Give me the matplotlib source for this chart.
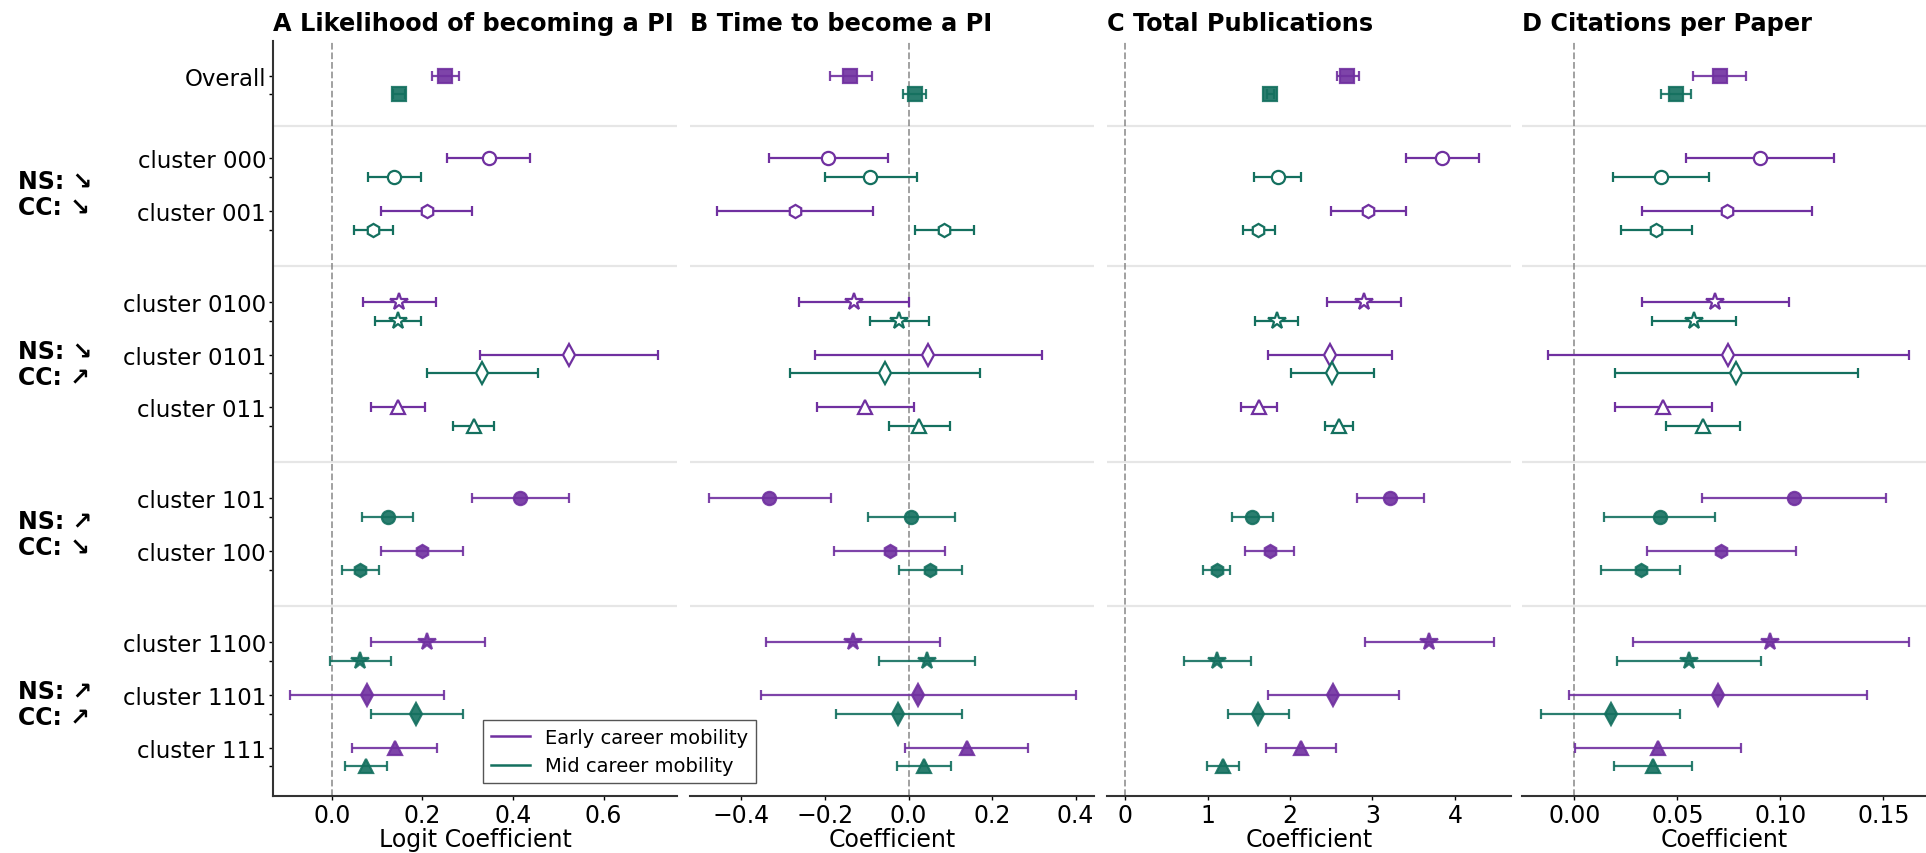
import numpy as np
import matplotlib
matplotlib.use("Agg")
import matplotlib.pyplot as plt
from matplotlib.lines import Line2D
from matplotlib.transforms import blended_transform_factory

plt.rcParams['font.family'] = ['DejaVu Sans']
plt.rcParams['font.size'] = 17

# ---- data -------------------------------------------------------------
rows = ['Overall', 'cluster 000', 'cluster 001', 'cluster 0100', 'cluster 0101',
        'cluster 011', 'cluster 101', 'cluster 100', 'cluster 1100',
        'cluster 1101', 'cluster 111']
markers = ['s', 'o', 'h', '*', 'd', '^', 'o', 'h', '*', 'd', '^']
filled = [True, False, False, False, False, False, True, True, True, True, True]
groups = [['cluster 000', 'cluster 001'],
          ['cluster 0100', 'cluster 0101', 'cluster 011'],
          ['cluster 101', 'cluster 100'],
          ['cluster 1100', 'cluster 1101', 'cluster 111']]
group_labels = ['NS: \u2198\nCC: \u2198', 'NS: \u2198\nCC: \u2197',
                'NS: \u2197\nCC: \u2198', 'NS: \u2197\nCC: \u2197']

titles = ['A Likelihood of becoming a PI', 'B Time to become a PI',
          'C Total Publications', 'D Citations per Paper']
xlabels = ['Logit Coefficient', 'Coefficient', 'Coefficient', 'Coefficient']

# estimate, lower and upper bound per row: early career / mid career
A_early = [0.250, 0.346, 0.210, 0.148, 0.524, 0.146, 0.416, 0.198, 0.211, 0.078, 0.139]
A_early_lo = [0.221, 0.254, 0.108, 0.068, 0.328, 0.087, 0.309, 0.108, 0.086, -0.092, 0.045]
A_early_hi = [0.281, 0.438, 0.310, 0.230, 0.721, 0.205, 0.523, 0.289, 0.337, 0.247, 0.231]
A_mid = [0.148, 0.137, 0.091, 0.145, 0.332, 0.313, 0.123, 0.063, 0.062, 0.186, 0.076]
A_mid_lo = [0.135, 0.079, 0.048, 0.096, 0.210, 0.268, 0.067, 0.022, -0.005, 0.086, 0.028]
A_mid_hi = [0.162, 0.196, 0.135, 0.196, 0.455, 0.358, 0.179, 0.103, 0.130, 0.289, 0.122]

B_early = [-0.139, -0.192, -0.272, -0.130, 0.047, -0.103, -0.333, -0.045, -0.133, 0.023, 0.139]
B_early_lo = [-0.189, -0.334, -0.459, -0.261, -0.225, -0.219, -0.478, -0.178, -0.340, -0.354, -0.008]
B_early_hi = [-0.088, -0.048, -0.084, 0.001, 0.319, 0.013, -0.186, 0.088, 0.076, 0.400, 0.285]
B_mid = [0.015, -0.091, 0.086, -0.022, -0.057, 0.026, 0.006, 0.052, 0.044, -0.024, 0.037]
B_mid_lo = [-0.013, -0.200, 0.016, -0.092, -0.284, -0.047, -0.098, -0.022, -0.071, -0.173, -0.028]
B_mid_hi = [0.043, 0.020, 0.156, 0.049, 0.170, 0.100, 0.111, 0.127, 0.160, 0.127, 0.102]

C_early = [2.694, 3.842, 2.948, 2.896, 2.479, 1.622, 3.211, 1.755, 3.689, 2.524, 2.131]
C_early_lo = [2.564, 3.405, 2.491, 2.451, 1.727, 1.407, 2.807, 1.456, 2.912, 1.731, 1.711]
C_early_hi = [2.831, 4.287, 3.409, 3.341, 3.240, 1.836, 3.624, 2.051, 4.473, 3.321, 2.556]
C_mid = [1.763, 1.848, 1.614, 1.836, 2.512, 2.588, 1.541, 1.112, 1.120, 1.614, 1.181]
C_mid_lo = [1.725, 1.561, 1.424, 1.581, 2.006, 2.427, 1.294, 0.950, 0.716, 1.242, 0.987]
C_mid_hi = [1.800, 2.135, 1.812, 2.099, 3.021, 2.758, 1.792, 1.270, 1.529, 1.986, 1.383]

D_early = [0.0705, 0.0900, 0.0739, 0.0684, 0.0747, 0.0430, 0.1064, 0.0713, 0.0952, 0.0698, 0.0407]
D_early_lo = [0.0577, 0.0540, 0.0327, 0.0327, -0.0128, 0.0197, 0.0618, 0.0351, 0.0283, -0.0026, 0.0005]
D_early_hi = [0.0833, 0.1259, 0.1153, 0.1043, 0.1623, 0.0666, 0.1513, 0.1077, 0.1623, 0.1423, 0.0808]
D_mid = [0.0493, 0.0420, 0.0398, 0.0579, 0.0787, 0.0624, 0.0414, 0.0322, 0.0556, 0.0176, 0.0380]
D_mid_lo = [0.0420, 0.0186, 0.0225, 0.0375, 0.0197, 0.0445, 0.0144, 0.0129, 0.0209, -0.0162, 0.0192]
D_mid_hi = [0.0566, 0.0655, 0.0572, 0.0786, 0.1379, 0.0803, 0.0684, 0.0514, 0.0904, 0.0512, 0.0571]

panels = [
    (A_early, A_early_lo, A_early_hi, A_mid, A_mid_lo, A_mid_hi),
    (B_early, B_early_lo, B_early_hi, B_mid, B_mid_lo, B_mid_hi),
    (C_early, C_early_lo, C_early_hi, C_mid, C_mid_lo, C_mid_hi),
    (D_early, D_early_lo, D_early_hi, D_mid, D_mid_lo, D_mid_hi),
]
xlims = [(-0.13, 0.762), (-0.523, 0.444), (-0.22, 4.68), (-0.0254, 0.1707)]
xticks = [[0.0, 0.2, 0.4, 0.6], [-0.4, -0.2, 0.0, 0.2, 0.4],
          [0, 1, 2, 3, 4], [0.0, 0.05, 0.10, 0.15]]
xticklabels = [['0.0', '0.2', '0.4', '0.6'],
               ['\u22120.4', '\u22120.2', '0.0', '0.2', '0.4'],
               ['0', '1', '2', '3', '4'],
               ['0.00', '0.05', '0.10', '0.15']]

# ---- layout -----------------------------------------------------------
early_col = '#7030a0'
mid_col = '#14705f'
off = 0.355
pos = {'Overall': 0.0}
cur = 0.0
first_gap, group_gap = 1.56, 1.72
for gi, g in enumerate(groups):
    for k, name in enumerate(g):
        cur += (first_gap if gi == 0 else group_gap) if k == 0 else 1.0
        pos[name] = cur
ypos = np.array([pos[r] for r in rows])
seps = []
prev_last = 'Overall'
for g in groups:
    seps.append((pos[prev_last] + off + pos[g[0]]) / 2)
    prev_last = g[-1]

W, H = 1926, 854
fig = plt.figure(figsize=(W / 100, H / 100), dpi=100)
lefts = [273, 690, 1107, 1522]
axw = 404
bottom_px, top_px = 797, 42

for i, (ax_left, data) in enumerate(zip(lefts, panels)):
    ax = fig.add_axes([ax_left / W, 1 - bottom_px / H, axw / W, (bottom_px - top_px) / H])
    e, elo, ehi, m, mlo, mhi = [np.array(d) for d in data]
    for j in range(len(rows)):
        for val, lo, hi, yy, col in [(e[j], elo[j], ehi[j], ypos[j], early_col),
                                     (m[j], mlo[j], mhi[j], ypos[j] + off, mid_col)]:
            ms = 13 if markers[j] == '*' else (11 if markers[j] == 'd' else 9.5)
            ax.errorbar(val, yy, xerr=[[val - lo], [hi - val]], fmt=markers[j],
                        color=col, mec=col, mfc=col if filled[j] else 'white',
                        ms=ms, mew=1.6, elinewidth=1.6, capsize=3.5, capthick=1.6,
                        alpha=0.9 if filled[j] else 1.0, zorder=3)
    for s in seps:
        ax.axhline(s, color='#e6e6e6', lw=1.6, zorder=0)
    ax.axvline(0, color='gray', ls='--', lw=1.3, alpha=0.8, zorder=1)
    ax.set_xlim(*xlims[i])
    ax.set_ylim(13.635, -0.656)
    ax.set_xticks(xticks[i])
    ax.set_xticklabels(xticklabels[i])
    ax.set_xlabel(xlabels[i], labelpad=0)
    ax.set_title(titles[i], loc='left', fontweight='bold', fontsize=17.3, pad=8)
    ax.spines['top'].set_visible(False)
    ax.spines['right'].set_visible(False)
    ax.spines['bottom'].set_linewidth(1.5)
    ax.spines['bottom'].set_color('#333333')
    ax.tick_params(axis='x', length=3, width=1, pad=2)
    if i == 0:
        ax.spines['left'].set_linewidth(1.5)
        ax.spines['left'].set_color('#333333')
        ax.set_yticks(ypos)
        ax.set_yticklabels(rows)
        ax.set_yticks(ypos + off, minor=True)
        ax.tick_params(axis='y', which='both', length=3, width=1, pad=2, labelsize=16.5)
        tr = blended_transform_factory(fig.transFigure, ax.transData)
        for g, lab in zip(groups, group_labels):
            yc = (pos[g[0]] + pos[g[-1]] + off) / 2
            ax.text(18 / W, yc, lab, transform=tr, ha='left', va='center',
                    fontweight='bold', linespacing=1.12)
    else:
        ax.spines['left'].set_visible(False)
        ax.set_yticks([])

handles = [Line2D([], [], color=early_col, lw=1.8), Line2D([], [], color=mid_col, lw=1.8)]
leg = fig.legend(handles, ['Early career mobility', 'Mid career mobility'],
                 loc='upper left', bbox_to_anchor=(483 / W, 1 - 721 / H),
                 fontsize=14, frameon=True, fancybox=False, borderaxespad=0,
                 edgecolor='#555555', framealpha=1)
leg.get_frame().set_linewidth(1.0)

fig.savefig('out.png', dpi=100)
